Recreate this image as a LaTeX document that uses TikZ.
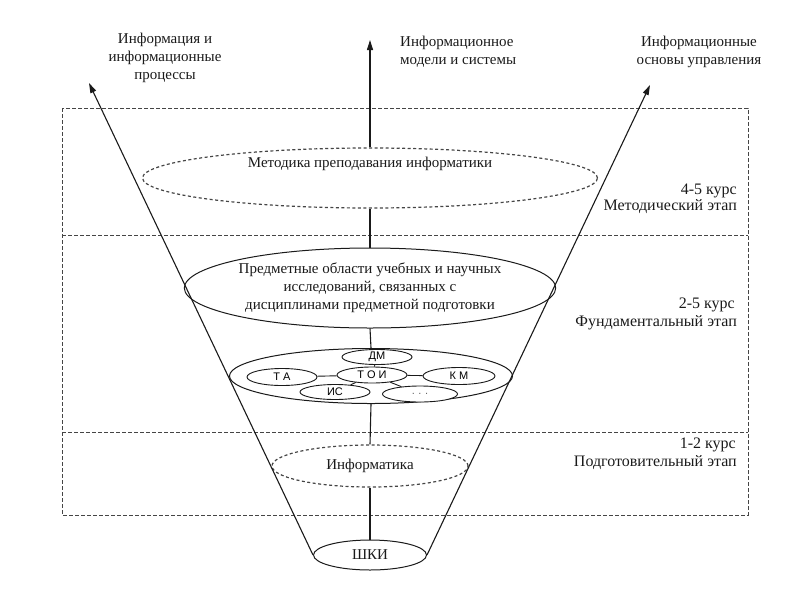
\documentclass[tikz,border=0pt]{standalone}
\usepackage{fontspec}
\setmainfont{Liberation Serif}
\newfontfamily\labelsans{Liberation Sans}
\usetikzlibrary{arrows.meta,positioning,shapes.geometric}
\definecolor{ink}{HTML}{1A1A1A}
\definecolor{dashink}{HTML}{454545}
\tikzset{
  oval/.style={ellipse, draw=ink, line width=1pt, fill=white, inner sep=0pt},
  dashoval/.style={oval, draw=dashink, dash pattern=on 3pt off 2.5pt, line width=1.2pt},
  subject/.style={ellipse, draw=ink, line width=0.9pt, fill=white, inner sep=0pt,
    minimum width=70pt, minimum height=15pt, font=\labelsans\fontsize{11}{12}\selectfont},
  stagebox/.style={draw=dashink, dash pattern=on 4pt off 2pt, line width=1pt},
  funnel/.style={ink, line width=1.1pt, -{Triangle[length=10pt,width=6pt]}},
  txt/.style={font=\fontsize{15}{18}\selectfont, text=ink, inner sep=0pt},
  stagetxt/.style={txt, font=\fontsize{16}{18}\selectfont, anchor=east},
}

\begin{document}
\begin{tikzpicture}[x=1pt, y=-1pt]
  \useasboundingbox (0,0) rectangle (794,595);
  % stage frames
  \draw[stagebox] (62,108) rectangle (748,515);
  \draw[stagebox] (62,235) -- (748,235);
  \draw[stagebox] (62,432) -- (748,432);
  % levels of the funnel
  \node[oval, minimum width=113pt, minimum height=30pt, txt] (shki) at (370,555) {ШКИ};
  \node[dashoval, minimum width=196pt, minimum height=42pt, txt] (infk) at (370,466) {Информатика};
  \node[oval, minimum width=283pt, minimum height=55pt] (cont) at (371,376) {};
  \node[oval, minimum width=366pt, minimum height=80pt, txt, align=center] (pred) at (370,288)
        {Предметные области учебных и научных\\исследований, связанных с\\дисциплинами предметной подготовки};
  \node[dashoval, minimum width=455pt, minimum height=60pt,
        label={[txt, yshift=14pt]center:Методика преподавания информатики}] (metod) at (370,178) {};
  % disciplines inside the basin
  \node[subject] (dm)  at (377,357) {ДМ};
  \node[subject, minimum height=16pt] (toi) at (372,375) {Т О И};
  \node[subject, minimum height=17pt] (ta)  at (282,377) {Т А};
  \node[subject, minimum width=72pt, minimum height=17pt] (km) at (459,376) {К М};
  \node[subject] (is)  at (335,392) {ИС};
  \node[subject, minimum width=75pt, minimum height=16pt, text=gray!80!black] (etc) at (420,394) {.\,\,.\,\,.};
  \draw[ink, line width=0.9pt] (ta) -- (toi) -- (km);
  \draw[ink, line width=0.9pt] (dm) -- (toi);
  \draw[ink, line width=0.9pt] (toi) -- (is);
  \draw[ink, line width=0.9pt] (toi) -- (etc);
  % axis through the levels
  \coordinate (tipL) at (89,83);
  \coordinate (tipC) at (370,40);
  \coordinate (tipR) at (650,85);
  \draw[ink, line width=1.1pt] (shki.north) -- (infk.south);
  \draw[ink, line width=1.1pt] (infk.north) -- (cont.south);
  \draw[ink, line width=1.1pt] (cont.north) -- (pred.south);
  \draw[ink, line width=1.1pt] (pred.north) -- (metod.south);
  \draw[funnel] (metod.north) -- (tipC);
  \draw[funnel] (shki.west) -- (tipL);
  \draw[funnel] (shki.east) -- (tipR);
  % directions
  \node[txt, align=center] (dirL) at (165,58) {Информация и\\информационные\\процессы};
  \node[txt, align=left, anchor=west] (dirC) at (400,52) {Информационное\\модели и системы};
  \node[txt, align=center] (dirR) at (699,52) {Информационные\\основы управления};
  % stages
  \node[stagetxt] (crs3) at (737,191) {4-5 курс};
  \node[stagetxt] (stg3) at (737,207) {Методический этап};
  \node[stagetxt] (crs2) at (735,305) {2-5 курс};
  \node[stagetxt] (stg2) at (737,323) {Фундаментальный этап};
  \node[stagetxt] (crs1) at (736,445) {1-2 курс};
  \node[stagetxt] (stg1) at (737,463) {Подготовительный этап};
\end{tikzpicture}
\end{document}
